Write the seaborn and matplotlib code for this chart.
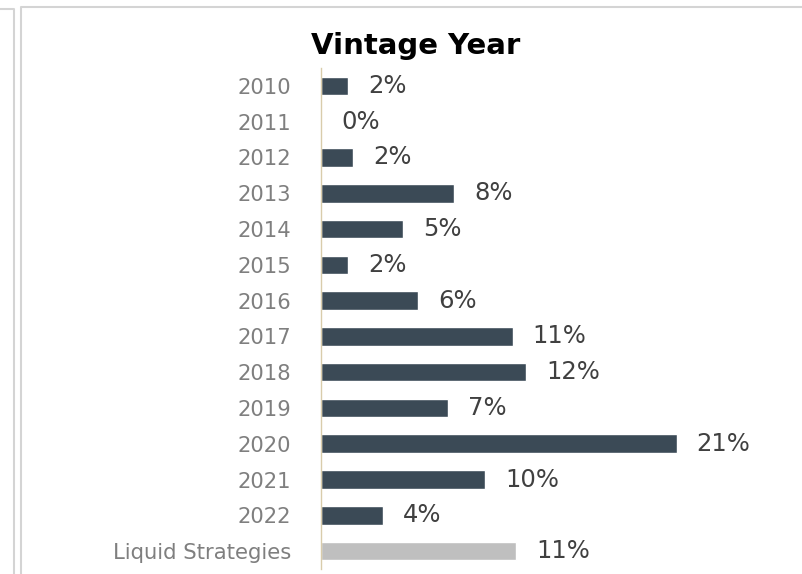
import matplotlib
matplotlib.use("Agg")
import matplotlib.pyplot as plt
from matplotlib.lines import Line2D
import seaborn as sns
import pandas as pd

# Share of commitments by vintage year (percent)
categories = ["2010", "2011", "2012", "2013", "2014", "2015", "2016",
              "2017", "2018", "2019", "2020", "2021", "2022",
              "Liquid Strategies"]
shares = [1.6, 0.0, 1.9, 7.8, 4.8, 1.6, 5.7,
          11.2, 12.0, 7.4, 20.8, 9.6, 3.6, 11.4]

BAR_COLOR = "#3b4a56"
LIQUID_COLOR = "#bfbfbf"
colors = {c: (LIQUID_COLOR if c == "Liquid Strategies" else BAR_COLOR) for c in categories}

df = pd.DataFrame({"category": categories, "share": shares})

sns.set_style("white")
plt.rcParams["font.family"] = ["DejaVu Sans"]

W, H = 802, 574
fig = plt.figure(figsize=(W / 100, H / 100), dpi=100)

# plot area in pixel terms
left_px, right_px, top_px, bottom_px = 321, 790, 68, 569
ax = fig.add_axes([left_px / W, 1 - bottom_px / H,
                   (right_px - left_px) / W, (bottom_px - top_px) / H])

sns.barplot(data=df, x="share", y="category", hue="category",
            palette=colors, legend=False, orient="h", width=0.52,
            saturation=1, ax=ax)

ax.set_xlim(0, (right_px - left_px) / 17.1)
ax.set_ylim(len(categories) - 0.5, -0.5)

for cont in ax.containers:
    ax.bar_label(cont, fmt="{:.0f}%", padding=14.4, fontsize=17.5,
                 color="#404040")

ax.set_xlabel("")
ax.set_ylabel("")
ax.set_xticks([])
ax.tick_params(axis="y", length=0, pad=21.6, labelsize=15.2,
               labelcolor="#7f7f7f")
for side in ["top", "right", "bottom"]:
    ax.spines[side].set_visible(False)
ax.spines["left"].set_color("#d9ccab")
ax.spines["left"].set_linewidth(1.0)

fig.text(415.5 / W, 1 - 46 / H, "Vintage Year", ha="center", va="center",
         fontsize=21, fontweight="bold", color="#000000")

# panel frame lines
def px_line(xs, ys, **kw):
    fig.add_artist(Line2D([x / W for x in xs], [1 - y / H for y in ys],
                          transform=fig.transFigure, **kw))

frame_kw = dict(color="#d4d4d4", linewidth=1.5, solid_capstyle="butt")
px_line([0, 13.5, 13.5], [9, 9, H], **frame_kw)
px_line([21, 21, W], [H, 7, 7], **frame_kw)

fig.savefig("out.png", dpi=100, facecolor="white")
